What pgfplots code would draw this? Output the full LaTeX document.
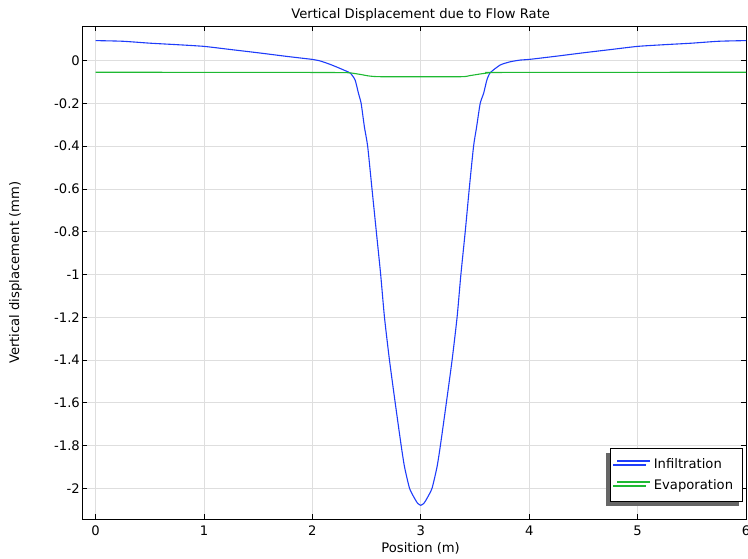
\documentclass[border=0pt]{standalone}
\usepackage{fontspec}
\setmainfont{DejaVu Sans}
\usepackage{pgfplots}
\pgfplotsset{compat=1.18}
\usetikzlibrary{shadows}
\definecolor{cblue}{RGB}{30,60,250}
\definecolor{cgreen}{RGB}{30,185,50}
\newcommand{\ff}{\fontsize{13.2}{15}\selectfont}
\begin{document}
\begin{tikzpicture}
\begin{axis}[
  scale only axis,
  width=664bp, height=492.5bp,
  at={(0,0)}, anchor=south west,
  xmin=-0.125, xmax=6,
  ymin=-2.144, ymax=0.16,
  xtick={0,1,2,3,4,5,6},
  ytick={-2,-1.8,-1.6,-1.4,-1.2,-1,-0.8,-0.6,-0.4,-0.2,0},
  tick align=inside,
  major tick length=5bp,
  tick style={black, line width=0.9bp},
  axis line style={black, line width=0.9bp},
  grid=major,
  major grid style={color=black!13, line width=0.8bp},
  /pgf/number format/assume math mode=true,
  ticklabel style={font=\ff},
  yticklabel style={inner sep=1bp, xshift=-1bp},
  xticklabel style={inner sep=1bp, anchor=north, yshift=-6bp},
  title={Vertical Displacement due to Flow Rate},
  title style={font=\ff, at={(rel axis cs:0.51,1)}, anchor=base, yshift=2.5bp, inner sep=0bp},
  xlabel={Position (m)},
  xlabel style={font=\ff, at={(rel axis cs:0.51,0)}, anchor=base, yshift=-33bp, inner sep=0bp},
  ylabel={Vertical displacement (mm)},
  ylabel style={font=\ff, at={(rel axis cs:0,0.5)}, anchor=south, yshift=59bp, inner sep=1bp},
  legend cell align=left,
  legend style={at={(rel axis cs:0.9955,0.0345)}, anchor=south east,
    line width=0.9bp, fill=white,
    font=\ff,
    inner xsep=6.5bp, inner ysep=5.5bp,
    row sep=0bp,
    nodes={inner xsep=3bp, inner ysep=4bp, text height=10bp, text depth=3bp},
    drop shadow={shadow xshift=-4bp, shadow yshift=-4bp, fill=black!60, opacity=1}},
  legend image code/.code={\draw[#1, line width=1.1bp] (0bp,3.6bp) -- (33bp,3.6bp);},
]
\addplot[draw=cblue, line width=1.1bp, smooth, tension=0.35] coordinates {
(0,0.094) (0.25,0.091) (0.5,0.082) (0.75,0.075) (1.0,0.067) (1.25,0.052) (1.5,0.037)
(1.75,0.021) (1.9,0.012) (2.0,0.006) (2.07,-0.001) (2.163,-0.017) (2.255,-0.036)
(2.30,-0.046) (2.35,-0.058) (2.394,-0.09) (2.425,-0.152) (2.45,-0.2) (2.48,-0.31)
(2.51,-0.4) (2.55,-0.6) (2.59,-0.8) (2.63,-1.0) (2.665,-1.2) (2.711,-1.4) (2.764,-1.6)
(2.819,-1.8) (2.85,-1.9) (2.896,-2.0) (2.94,-2.045) (2.97,-2.07) (3.0,-2.08)
(3.03,-2.07) (3.06,-2.045) (3.104,-2.0) (3.15,-1.9) (3.181,-1.8) (3.236,-1.6)
(3.289,-1.4) (3.335,-1.2) (3.37,-1.0) (3.41,-0.8) (3.447,-0.6) (3.487,-0.4)
(3.515,-0.31) (3.548,-0.2) (3.58,-0.152) (3.61,-0.09) (3.641,-0.056) (3.733,-0.02)
(3.826,-0.005) (3.918,0.003) (4.0,0.006) (4.25,0.021) (4.5,0.037) (4.75,0.052)
(5.0,0.067) (5.25,0.075) (5.5,0.082) (5.75,0.091) (6.0,0.094)
};
\addlegendentry{Infiltration}
\addplot[draw=cgreen, line width=1.1bp, smooth, tension=0.35] coordinates {
(0,-0.054) (2.0,-0.055) (2.3,-0.056) (2.35,-0.057) (2.44,-0.064) (2.53,-0.072)
(2.65,-0.075) (3.36,-0.075) (3.45,-0.07) (3.55,-0.062) (3.64,-0.056) (3.73,-0.055)
(6,-0.054)
};
\addlegendentry{Evaporation}
\end{axis}
\pgfresetboundingbox
\path (-82bp,-40bp) rectangle (666bp,519bp);
\end{tikzpicture}
\end{document}
